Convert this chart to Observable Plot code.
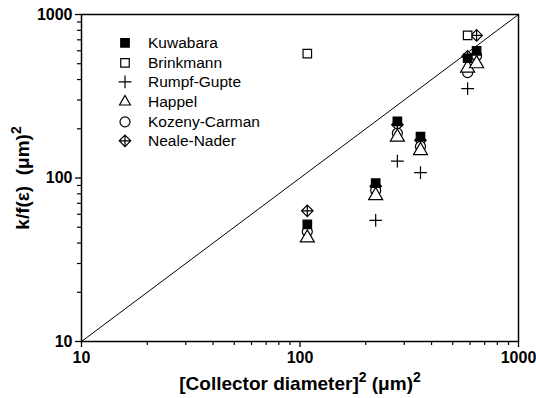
<!DOCTYPE html>
<html><head><meta charset="utf-8">
<script src="https://cdn.jsdelivr.net/npm/d3@7"></script>
<script src="https://cdn.jsdelivr.net/npm/@observablehq/plot@0.6"></script>
<style>
body{margin:0;background:#fff;}
#wrap{position:relative;width:536px;height:398px;font-family:"Liberation Sans",Arial,sans-serif;}
#legend{position:absolute;left:113px;top:33px;font-size:15.5px;color:#000;}
.row{height:19.7px;display:flex;align-items:center;white-space:nowrap;}
.row svg{width:24px;height:19.7px;margin-right:11px;flex:none;}
</style></head><body><div id="wrap"><div id="legend"></div></div>
<script>
// Data (log-log)
const diameterSq = [108, 222, 279, 356, 585, 643];
const kuwabara   = [52, 93, 222, 179, 540, 600];
const brinkmann  = [577, null, null, null, 745, null];
const rumpfGupte = [null, 55, 127, 108, 352, null];
const happel     = [43, 78, 178, 147, 470, 500];
const kozeny     = [47, 84, 188, 156, 441, 560];
const nealeNader = [63, 89, 212, 170, 555, 745];
const modelNames = ["Kuwabara", "Brinkmann", "Rumpf-Gupte", "Happel", "Kozeny-Carman", "Neale-Nader"];
const majorTicks = [10, 100, 1000];
const minorTicks = [20,30,40,50,60,70,80,90,200,300,400,500,600,700,800,900];
const diagonal = [10, 1000];
const xTitle = "[Collector diameter]² (μm)²";
const yTitle = "k/f(ε)  (μm)²";

// custom symbol: diamond with inscribed cross
const diamondCross = {
  draw(ctx, size) {
    const r = Math.sqrt(size / Math.PI) * 1.15;
    ctx.moveTo(0, -r); ctx.lineTo(r, 0); ctx.lineTo(0, r); ctx.lineTo(-r, 0); ctx.closePath();
    ctx.moveTo(0, -r); ctx.lineTo(0, r);
    ctx.moveTo(-r, 0); ctx.lineTo(r, 0);
  }
};

const series = [
  {name: modelNames[0], values: kuwabara,   symbol: "square",   fill: "black", stroke: "black", r: 4.8},
  {name: modelNames[1], values: brinkmann,  symbol: "square",   fill: "white", stroke: "black", r: 4.8},
  {name: modelNames[2], values: rumpfGupte, symbol: "plus",     fill: "none",  stroke: "black", r: 4.2},
  {name: modelNames[3], values: happel,     symbol: "triangle", fill: "white", stroke: "black", r: 5.2},
  {name: modelNames[4], values: kozeny,     symbol: "circle",   fill: "white", stroke: "black", r: 5},
  {name: modelNames[5], values: nealeNader, symbol: diamondCross, fill: "white", stroke: "black", r: 5}
];

const toRows = s => diameterSq.map((x, i) => ({x, y: s.values[i]})).filter(d => d.y != null);

const marks = [
  Plot.line(diagonal.map(v => ({x: v, y: v})), {x: "x", y: "y", stroke: "black", strokeWidth: 1}),
  ...series.slice().reverse().map(s => Plot.dot(toRows(s), {x: "x", y: "y", symbol: s.symbol, r: s.r, fill: s.fill, stroke: s.stroke, strokeWidth: 1.2})),
  Plot.frame({stroke: "black", strokeWidth: 1.5}),
  Plot.axisX({ticks: majorTicks, tickSize: 6, tickPadding: 4, tickFormat: d => String(d), label: null, fontSize: 16, fontWeight: "bold", strokeWidth: 1.3}),
  Plot.axisX({ticks: minorTicks, tickSize: 4, tickFormat: () => "", label: null, strokeWidth: 1.2}),
  Plot.axisY({ticks: majorTicks, tickSize: 6, tickPadding: 3, tickFormat: d => String(d), label: null, fontSize: 16, fontWeight: "bold", strokeWidth: 1.3}),
  Plot.axisY({ticks: minorTicks, tickSize: 4, tickFormat: () => "", label: null, strokeWidth: 1.2}),
  Plot.text([xTitle], {frameAnchor: "bottom", dy: 48, text: d => d, fontSize: 19, fontWeight: "bold", lineAnchor: "bottom", textAnchor: "middle"}),
  Plot.text([yTitle], {frameAnchor: "left", dx: -59, rotate: -90, text: d => d, fontSize: 19, fontWeight: "bold", lineAnchor: "middle", textAnchor: "middle"})
];

const chart = Plot.plot({
  width: 536, height: 398,
  marginLeft: 81, marginRight: 18, marginTop: 14, marginBottom: 57,
  style: {fontFamily: "'Liberation Sans', Arial, sans-serif", fontSize: "15px", fontWeight: "bold", background: "white", color: "black", overflow: "visible"},
  x: {type: "log", domain: [10, 1000]},
  y: {type: "log", domain: [10, 1000]},
  marks
});
chart.style.position = "absolute";
chart.style.left = "0"; chart.style.top = "0";
const wrap = document.getElementById("wrap");
wrap.insertBefore(chart, wrap.firstChild);

// turn "²" into a larger raised superscript 2
d3.select(chart).selectAll("text").each(function() {
  const t = this.textContent;
  if (!t.includes("²")) return;
  const sel = d3.select(this);
  sel.text(null);
  t.split("²").forEach((p, i) => {
    if (i > 0) sel.append("tspan").attr("dy", -8).attr("font-size", 14).text("2");
    sel.append("tspan").attr("dy", i > 0 ? 8 : null).text(p);
  });
});

// legend
const legend = document.getElementById("legend");
series.forEach(s => {
  const row = document.createElement("div");
  row.className = "row";
  const type = typeof s.symbol === "string" ? ({square: d3.symbolSquare, plus: d3.symbolPlus, triangle: d3.symbolTriangle2, circle: d3.symbolCircle})[s.symbol] : s.symbol;
  const path = d3.symbol(type, Math.PI * s.r * s.r)();
  row.innerHTML = `<svg viewBox="-12 -9.85 24 19.7"><path d="${path}" fill="${s.fill}" stroke="${s.stroke}" stroke-width="1.2"/></svg><span>${s.name}</span>`;
  legend.appendChild(row);
});
</script></body></html>
